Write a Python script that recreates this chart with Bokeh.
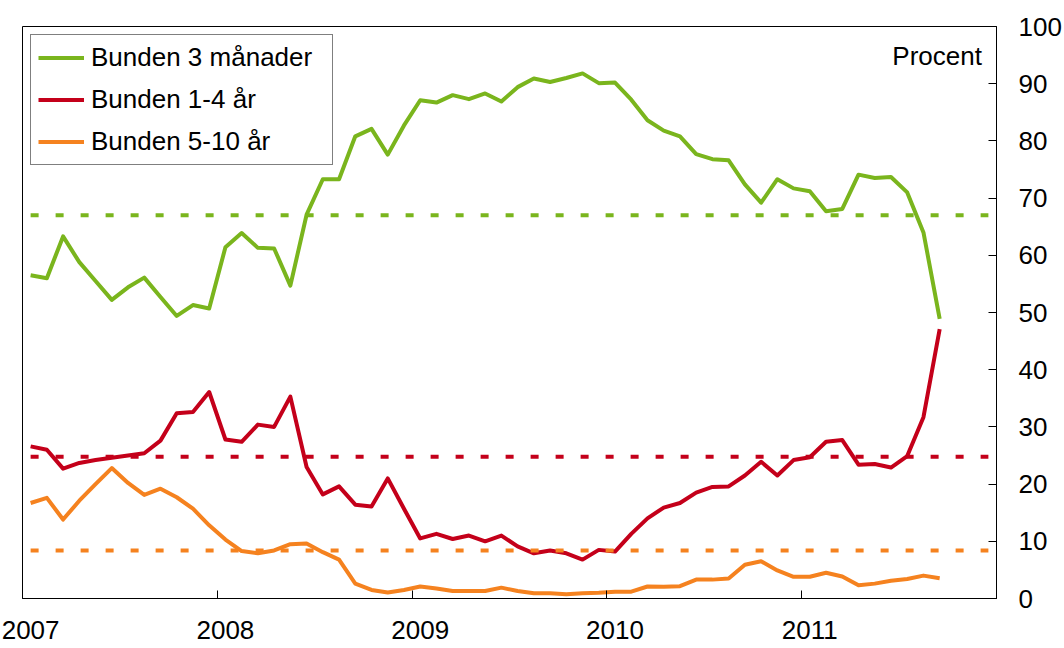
from bokeh.plotting import figure
from bokeh.models import (Range1d, FixedTicker, Legend, LegendItem, Label)
from bokeh.embed import file_html
from bokeh.resources import INLINE

# Monthly observations, Jan 2007 .. Sep 2011 (month index 0 = Jan 2007)
months = list(range(57))
bunden_3m = [56.5, 56.0, 63.3, 58.8, 55.5, 52.2, 54.4, 56.1, 52.7, 49.4,
             51.3, 50.7, 61.4, 63.9, 61.3, 61.2, 54.7, 67.1, 73.3, 73.3,
             80.8, 82.1, 77.6, 82.7, 87.1, 86.7, 88.0, 87.3, 88.3, 86.9,
             89.4, 90.9, 90.3, 91.0, 91.8, 90.1, 90.2, 87.2, 83.6, 81.8,
             80.8, 77.7, 76.8, 76.6, 72.4, 69.2, 73.3, 71.7, 71.2, 67.7,
             68.1, 74.1, 73.5, 73.7, 71.0, 64.0, 48.9]
bunden_1_4 = [26.6, 26.0, 22.7, 23.7, 24.2, 24.6, 25.0, 25.4, 27.6, 32.4,
              32.6, 36.1, 27.8, 27.4, 30.4, 30.0, 35.3, 23.0, 18.2, 19.6,
              16.4, 16.1, 21.0, 15.7, 10.5, 11.3, 10.4, 11.0, 10.0, 11.0,
              9.1, 7.9, 8.4, 7.9, 6.8, 8.5, 8.2, 11.3, 14.0, 15.9,
              16.7, 18.5, 19.5, 19.6, 21.5, 23.9, 21.5, 24.2, 24.7, 27.4,
              27.7, 23.4, 23.5, 22.9, 24.9, 31.7, 47.1]
bunden_5_10 = [16.7, 17.6, 13.8, 17.1, 20.0, 22.8, 20.2, 18.1, 19.2, 17.7,
               15.7, 12.8, 10.3, 8.3, 7.9, 8.4, 9.5, 9.6, 8.1, 6.8,
               2.6, 1.5, 1.05, 1.5, 2.1, 1.75, 1.3, 1.3, 1.3, 1.9,
               1.3, 0.9, 0.9, 0.75, 0.9, 1.0, 1.2, 1.2, 2.1, 2.05,
               2.15, 3.3, 3.3, 3.5, 5.9, 6.5, 4.9, 3.8, 3.8, 4.5,
               3.85, 2.3, 2.6, 3.1, 3.4, 4.0, 3.55]
avg_3m = 67.0
avg_1_4 = 24.8
avg_5_10 = 8.4
avg_span = [0, 59]          # month index range of the average lines
year_labels = ["2007", "2008", "2009", "2010", "2011"]
series_names = ["Bunden 3 månader", "Bunden 1-4 år", "Bunden 5-10 år"]
colors = ["#7AB51D", "#C4001A", "#F5821F"]

FONT = "Liberation Sans"
FS = "26px"

p = figure(width=1064, height=648, output_backend="svg",
           toolbar_location=None, x_range=Range1d(0, 60), y_range=Range1d(0, 100),
           y_axis_location="right", min_border_left=22, min_border_top=26,
           min_border_right=66, min_border_bottom=50)
p.background_fill_color = "white"
p.border_fill_color = "white"
p.outline_line_color = "black"
p.outline_line_width = 1
p.grid.visible = False

# Right y axis
ya = p.yaxis[0]
ya.ticker = FixedTicker(ticks=list(range(0, 101, 10)))
ya.major_tick_in = 8
ya.major_tick_out = 0
ya.minor_tick_line_color = None
ya.axis_line_color = "black"
ya.major_label_standoff = 22
ya.major_label_text_font = FONT
ya.major_label_text_font_size = FS
ya.major_label_text_color = "black"

# Bottom axis: year labels centred on January, tick marks at year boundaries
label_pos = [12 * k + 0.5 for k in range(len(year_labels))]
xa = p.xaxis[0]
xa.ticker = FixedTicker(ticks=label_pos, minor_ticks=[0, 12, 24, 36, 48, 60])
xa.major_label_overrides = {pos: lab for pos, lab in zip(label_pos, year_labels)}
xa.major_tick_line_color = None
xa.major_tick_in = 0
xa.major_tick_out = 0
xa.minor_tick_line_color = "black"
xa.minor_tick_in = 8
xa.minor_tick_out = 0
xa.axis_line_color = "black"
xa.major_label_standoff = 22
xa.major_label_text_font = FONT
xa.major_label_text_font_size = FS
xa.major_label_text_color = "black"

x = [m + 0.5 for m in months]
renderers = []
for vals, col in zip([bunden_3m, bunden_1_4, bunden_5_10], colors):
    r = p.line(x, vals, line_color=col, line_width=4, line_join="round")
    renderers.append(r)

ax = [a + 0.5 for a in avg_span]
for avg, col in zip([avg_3m, avg_1_4, avg_5_10], colors):
    p.line(ax, [avg, avg], line_color=col, line_width=4, line_dash="8 17")

legend = Legend(items=[LegendItem(label=n, renderers=[r]) for n, r in zip(series_names, renderers)],
                location="top_left", margin=8, padding=7, spacing=11,
                label_height=29, label_width=234, glyph_height=29, glyph_width=46,
                label_standoff=7,
                label_text_font=FONT, label_text_font_size=FS, label_text_color="black",
                border_line_color="black", border_line_width=1,
                background_fill_color="white", background_fill_alpha=1)
p.add_layout(legend)

p.add_layout(Label(x=59.1, y=94.8, text="Procent", text_align="right",
                   text_baseline="alphabetic", text_font=FONT, text_font_size=FS,
                   text_color="black"))

open("out.html", "w").write(file_html(p, INLINE))
